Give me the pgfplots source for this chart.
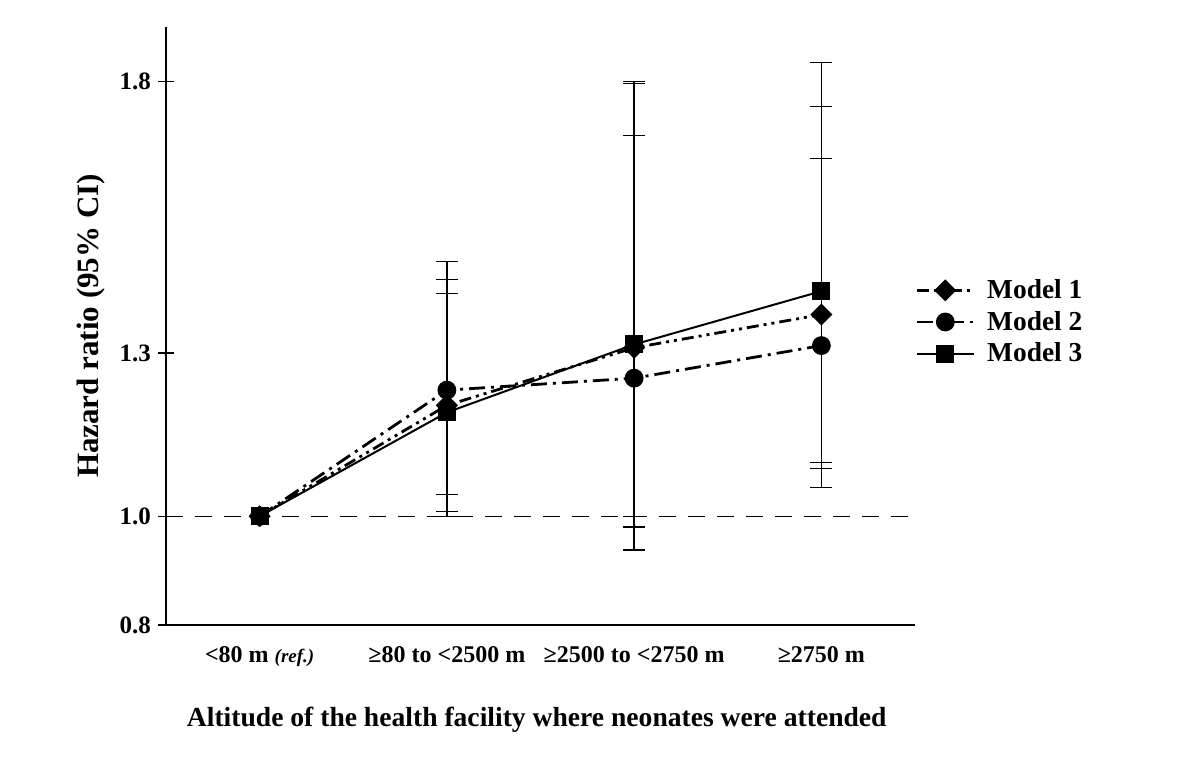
\documentclass[border=0pt]{standalone}
\usepackage{fontspec}
\setmainfont{Liberation Serif}
\usepackage{pgfplots}
\usepackage{pgfplotstable}
\pgfplotsset{compat=1.18}

% Hazard ratios with 95% CI bounds (lo, hi) per altitude group
\pgfplotstableread{
x y lo hi
0 1.000 1.000 1.000
1 1.204 1.009 1.436
2 1.310 0.980 1.800
3 1.371 1.088 1.754
}\modelA
\pgfplotstableread{
x y lo hi
0 1.000 1.000 1.000
1 1.232 1.040 1.469
2 1.254 0.938 1.700
3 1.314 1.053 1.658
}\modelB
\pgfplotstableread{
x y lo hi
0 1.000 1.000 1.000
1 1.191 1.000 1.410
2 1.316 1.000 1.796
3 1.414 1.099 1.835
}\modelC

\pgfplotsset{
  cibars/.style={
    black, only marks, mark=none, forget plot,
    skip coords between index={0}{1},
    error bars/.cd, y dir=both, y explicit,
    error bar style={black, solid, line width=0.7pt},
    error mark=|,
    error mark options={black, solid, line width=0.7pt, mark size=5.5pt}
  }
}

\begin{document}
\begin{tikzpicture}
\useasboundingbox (-83pt,-66.5pt) rectangle (508.5pt,312.5pt);
\begin{axis}[
  scale only axis,
  width=374.5pt, height=299pt,
  xmin=-0.5, xmax=3.5,
  ymin=0.8, ymax=1.9,
  axis x line*=bottom, axis y line*=left,
  axis line style={line width=0.8pt, -},
  xtick={0,1,2,3},
  xticklabels={{<80 m {\fontsize{9.5}{10}\selectfont\itshape(ref.)}},
               {≥80 to <2500 m},{≥2500 to <2750 m},{≥2750 m}},
  x tick style={draw=none},
  ytick={0.8,1.0,1.3,1.8},
  yticklabels={0.8,1.0,1.3,1.8},
  y tick style={line width=0.7pt, black},
  tick align=center,
  major tick length=8pt,
  xticklabel style={font=\bfseries\fontsize{12}{14}\selectfont, yshift=-3pt},
  yticklabel style={font=\bfseries\fontsize{12.5}{14}\selectfont},
  xlabel={Altitude of the health facility where neonates were attended},
  ylabel={Hazard ratio (95\% CI)},
  xlabel style={font=\bfseries\fontsize{13.8}{16}\selectfont,
    at={(axis description cs:0.495,-0.159)}, anchor=center},
  ylabel style={font=\bfseries\fontsize{15.5}{18}\selectfont,
    at={(axis description cs:-0.1,0.5)}, anchor=center},
  legend style={at={(axis description cs:0.992,0.592)}, anchor=north west,
    draw=none, fill=none, font=\bfseries\fontsize{13.7}{15}\selectfont,
    row sep=0.8pt, column sep=4pt},
  legend cell align=left,
  legend image code/.code={%
    \draw[mark repeat=2, mark phase=2] plot coordinates {(0pt,0pt) (14.25pt,0pt) (28.5pt,0pt)};},
]
% reference line at HR = 1
\draw[line width=0.7pt, dash pattern=on 8.5pt off 6pt]
  (axis cs:-0.5,1.0) -- (axis cs:3.5,1.0);

% confidence intervals
\addplot[cibars] table[x=x, y=y,
  y error plus expr=\thisrow{hi}-\thisrow{y},
  y error minus expr=\thisrow{y}-\thisrow{lo}] {\modelA};
\addplot[cibars] table[x=x, y=y,
  y error plus expr=\thisrow{hi}-\thisrow{y},
  y error minus expr=\thisrow{y}-\thisrow{lo}] {\modelB};
\addplot[cibars] table[x=x, y=y,
  y error plus expr=\thisrow{hi}-\thisrow{y},
  y error minus expr=\thisrow{y}-\thisrow{lo}] {\modelC};

% point estimates
\addplot[black, line width=1.4pt,
  dash pattern=on 6pt off 2.5pt on 1.5pt off 2.5pt on 1.5pt off 2.5pt,
  mark=square*, mark size=3.2pt, mark options={solid, rotate=45, fill=black}]
  table[x=x, y=y] {\modelA};
\addlegendentry{Model 1}
\addplot[black, line width=1.4pt,
  dash pattern=on 8pt off 3pt on 1.5pt off 3pt,
  mark=*, mark size=4pt, mark options={solid, fill=black}]
  table[x=x, y=y] {\modelB};
\addlegendentry{Model 2}
\addplot[black, line width=1pt,
  mark=square*, mark size=4pt, mark options={solid, fill=black}]
  table[x=x, y=y] {\modelC};
\addlegendentry{Model 3}
\end{axis}
\end{tikzpicture}
\end{document}
